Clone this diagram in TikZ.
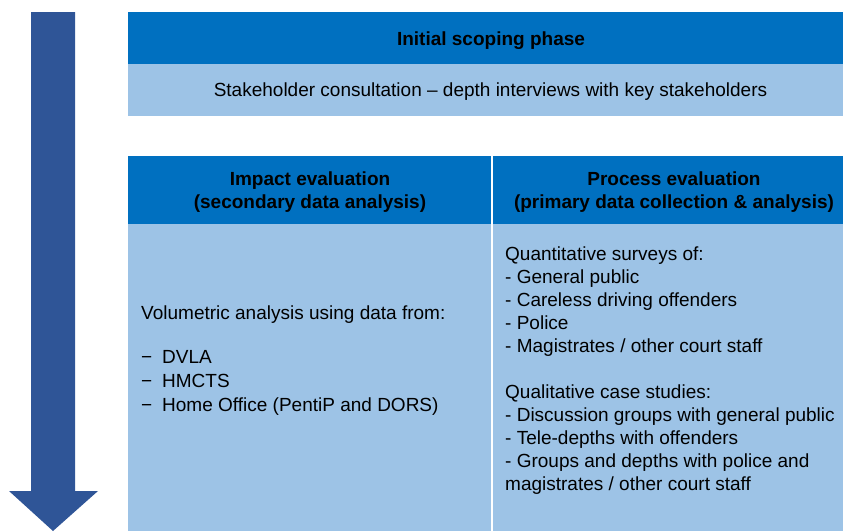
\documentclass[tikz,border=0pt]{standalone}
\usepackage{fontspec}
\setmainfont{Liberation Sans}
\definecolor{hdr}{HTML}{0070C0}
\definecolor{band}{HTML}{9DC3E6}
\definecolor{arr}{HTML}{2F5597}
\begin{document}
\begin{tikzpicture}[x=1pt,y=1pt,
  hdrbox/.style={fill=hdr, draw=none},
  bandbox/.style={fill=band, draw=none},
  hdrtext/.style={font=\fontsize{19}{23}\selectfont\bfseries, align=center, inner sep=0pt, text=black},
  bodytext/.style={font=\fontsize{19}{23}\selectfont, align=left, inner sep=0pt, anchor=north west, text=black}]
\useasboundingbox (0,0) rectangle (843,-531);
% arrow
\fill[arr] (31,-12) -- (75,-12) -- (75,-491) -- (98,-491) -- (53,-531) -- (9,-491) -- (31,-491) -- cycle;
% top box
\fill[hdrbox] (128,-12) rectangle (843,-64);
\fill[bandbox] (128,-64) rectangle (843,-116);
\node[hdrtext] (scope) at (491,-41) {Initial scoping phase};
\node[hdrtext, font=\fontsize{19}{23}\selectfont] (stake) at (490.5,-92) {Stakeholder consultation – depth interviews with key stakeholders};
% table
\fill[hdrbox] (128,-156) rectangle (491,-224);
\fill[hdrbox] (493,-156) rectangle (843,-224);
\fill[bandbox] (128,-224) rectangle (491,-531);
\fill[bandbox] (493,-224) rectangle (843,-531);
\node[hdrtext] (impact) at (310,-192.5) {Impact evaluation\\(secondary data analysis)};
\node[hdrtext] (process) at (674,-192.5) {Process evaluation\\(primary data collection \& analysis)};
\node[bodytext, font=\fontsize{19}{24}\selectfont] (vol) at (141,-306) {Volumetric analysis using data from:\\[20pt]
\makebox[21pt][l]{−}DVLA\\
\makebox[21pt][l]{−}HMCTS\\
\makebox[21pt][l]{−}Home Office (PentiP and DORS)};
\node[bodytext] (proc) at (505,-247) {Quantitative surveys of:\\
- General public\\
- Careless driving offenders\\
- Police\\
- Magistrates / other court staff\\[23pt]
Qualitative case studies:\\
- Discussion groups with general public\\
- Tele-depths with offenders\\
- Groups and depths with police and\\
magistrates / other court staff};
\end{tikzpicture}
\end{document}
